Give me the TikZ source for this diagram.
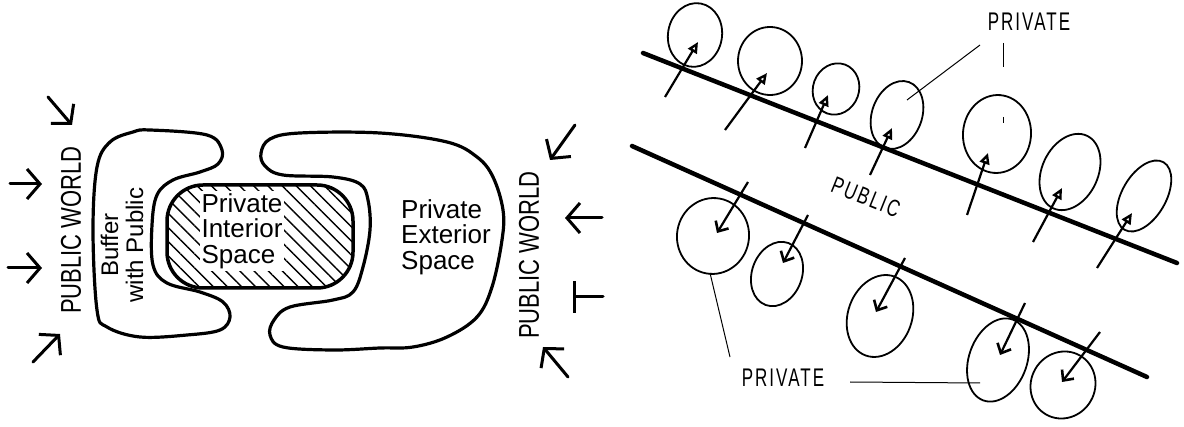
\documentclass[tikz,border=0pt]{standalone}
\usepackage{fontspec}
\setmainfont{Liberation Sans}
\newfontfamily\capsfont[LetterSpace=12]{Liberation Sans}
\usetikzlibrary{arrows.meta,shapes.geometric,patterns.meta}
\begin{document}
\begin{tikzpicture}[x=1pt,y=-1pt,
  blob/.style={line width=3.2pt, line join=round},
  bigarrow/.style={line width=3pt, line cap=round, -{Straight Barb[length=13pt,width=30pt,line width=3pt]}},
  bararrow/.style={line width=3pt, line cap=round, -{Bar[width=32pt,line width=3pt]}},
  road/.style={line width=4.5pt, line cap=round},
  room/.style={draw, ellipse, line width=1.8pt, inner sep=0pt},
  uparrow/.style={line width=2.2pt, -{Triangle[open,length=11pt,width=10pt,line width=2.4pt]}},
  downarrow/.style={line width=2.2pt, -{Straight Barb[length=8pt,width=15pt,line width=2.6pt]}},
  lead/.style={line width=1pt},
  hand/.style={font=\fontsize{26}{25.5}\selectfont, align=left, inner sep=0pt},
  caps/.style={font=\capsfont\fontsize{17}{17}\selectfont, inner sep=0pt},
]
\useasboundingbox[fill=white] (0,0) rectangle (1184,427);

% ---------------- left diagram ----------------
% buffer with public (C-shape opening right)
\draw[blob] plot[smooth cycle, tension=0.6] coordinates {(150,130) (207,135) (222,150) (218,164) (200,172) (173,180) (157,195) (152,225) (153,265) (167,283) (200,292) (223,302) (230,317) (220,330) (187,335) (140,337) (107,327) (97,310) (93,230) (97,167) (110,142) (133,132)};
% private exterior space (C-shape opening left)
\draw[blob] plot[smooth cycle, tension=0.6] coordinates {(300,133) (380,133) (447,142) (477,157) (493,177) (503,210) (502,240) (492,287) (477,317) (447,337) (413,347) (380,348) (333,350) (283,347) (270,335) (274,320) (290,307) (333,300) (353,292) (363,267) (370,230) (368,200) (360,184) (333,177) (283,175) (265,166) (261,153) (270,139)};
% private interior (hatched)
\node[draw, line width=3.5pt, rounded corners=36pt, minimum width=186pt, minimum height=103pt, inner sep=0pt,
      pattern={Lines[angle=-45,distance=10pt,line width=1.4pt]}] (interior) at (260,236.5) {};
\node[hand, fill=white, inner sep=2pt] (pis) at (242,231) {Private\\Interior\\Space};
\node[hand] (pes) at (446,237) {Private\\Exterior\\Space};

\node[rotate=90, font=\fontsize{22}{22}\selectfont, inner sep=0pt] (pw1) at (71,230) {\scalebox{1}[1.3]{PUBLIC WORLD}};
\node[rotate=90, align=center, font=\fontsize{24}{25}\selectfont, inner sep=0pt] (buf) at (122,245) {Buffer\\with Public};
\node[rotate=90, font=\fontsize{22}{22}\selectfont, inner sep=0pt] (pw2) at (529,255) {\scalebox{1}[1.3]{PUBLIC WORLD}};

% arrows from the public world
\coordinate (a1s) at (48,97);  \coordinate (a1e) at (72,125);
\coordinate (a2s) at (10,184); \coordinate (a2e) at (42,184);
\coordinate (a3s) at (8,268);  \coordinate (a3e) at (42,268);
\coordinate (a4s) at (33,362); \coordinate (a4e) at (60,334);
\coordinate (b1s) at (575,125); \coordinate (b1e) at (550,160);
\coordinate (b2s) at (602,218); \coordinate (b2e) at (565,218);
\coordinate (b3s) at (603,297); \coordinate (b3e) at (573,297);
\coordinate (b4s) at (568,377); \coordinate (b4e) at (543,347);
\draw[bigarrow] (a1s) -- (a1e);
\draw[bigarrow] (a2s) -- (a2e);
\draw[bigarrow] (a3s) -- (a3e);
\draw[bigarrow] (a4s) -- (a4e);
\draw[bigarrow] (b1s) -- (b1e);
\draw[bigarrow] (b2s) -- (b2e);
\draw[bararrow] (b3s) -- (b3e);
\draw[bigarrow] (b4s) -- (b4e);

% ---------------- right diagram ----------------
\coordinate (r1a) at (643,53);  \coordinate (r1b) at (1177,263);
\coordinate (r2a) at (632,146); \coordinate (r2b) at (1147,377);
\draw[road] (r1a) -- (r1b);
\draw[road] (r2a) -- (r2b);

% upper private rooms
\node[room, minimum width=54pt, minimum height=64pt, rotate=-10] (u1) at (695,35) {};
\node[room, minimum width=64pt, minimum height=68pt] (u2) at (770,61) {};
\node[room, minimum width=46pt, minimum height=52pt, rotate=-20] (u3) at (836,89) {};
\node[room, minimum width=50pt, minimum height=70pt, rotate=-20] (u4) at (897,115) {};
\node[room, minimum width=68pt, minimum height=78pt, rotate=-5] (u5) at (997,134) {};
\node[room, minimum width=56pt, minimum height=80pt, rotate=-25] (u6) at (1070,172) {};
\node[room, minimum width=44pt, minimum height=78pt, rotate=-30] (u7) at (1144,196) {};

\coordinate (ut1) at (665,97);   \coordinate (uh1) at (698,42);
\coordinate (ut2) at (725,130);  \coordinate (uh2) at (767,73);
\coordinate (ut3) at (805,148);  \coordinate (uh3) at (828,95);
\coordinate (ut4) at (870,175);  \coordinate (uh4) at (892,128);
\coordinate (ut5) at (967,215);  \coordinate (uh5) at (988,153);
\coordinate (ut6) at (1033,242); \coordinate (uh6) at (1062,188);
\coordinate (ut7) at (1097,268); \coordinate (uh7) at (1132,213);
\foreach \i in {1,...,7} \draw[uparrow] (ut\i) -- (uh\i);

% lower private rooms
\node[room, minimum width=72pt, minimum height=76pt, rotate=-10] (l1) at (713,236) {};
\node[room, minimum width=50pt, minimum height=66pt, rotate=-20] (l2) at (777,274) {};
\node[room, minimum width=64pt, minimum height=84pt, rotate=-20] (l3) at (880,316) {};
\node[room, minimum width=58pt, minimum height=86pt, rotate=-20] (l4) at (998,360) {};
\node[room, minimum width=64pt, minimum height=68pt, rotate=-30] (l5) at (1063,385) {};

\coordinate (lt1) at (748,182);  \coordinate (lh1) at (717,233);
\coordinate (lt2) at (808,215);  \coordinate (lh2) at (783,263);
\coordinate (lt3) at (905,258);  \coordinate (lh3) at (876,312);
\coordinate (lt4) at (1025,303); \coordinate (lh4) at (1000,355);
\coordinate (lt5) at (1100,332); \coordinate (lh5) at (1062,382);
\foreach \i in {1,...,5} \draw[downarrow] (lt\i) -- (lh\i);

% labels
\node[caps] (ptop) at (1029,22) {\scalebox{1}[1.5]{PRIVATE}};
\node[caps] (pbot) at (783,378) {\scalebox{1}[1.5]{PRIVATE}};
\node[caps, rotate=-22] (pub) at (866,197) {\scalebox{1}[1.4]{PUBLIC}};

% leader lines
\coordinate (ld1a) at (980,45);   \coordinate (ld1b) at (907,100);
\coordinate (ld2a) at (1003,43);  \coordinate (ld2b) at (1003,123);
\coordinate (ld3a) at (730,357);  \coordinate (ld3b) at (710,273);
\coordinate (ld4a) at (850,382);  \coordinate (ld4b) at (980,383);
\draw[lead] (ld1a) -- (ld1b);
\draw[lead, dash pattern=on 24pt off 50pt on 6pt off 20pt] (ld2a) -- (ld2b);
\draw[lead] (ld3a) -- (ld3b);
\draw[lead] (ld4a) -- (ld4b);
\end{tikzpicture}
\end{document}
